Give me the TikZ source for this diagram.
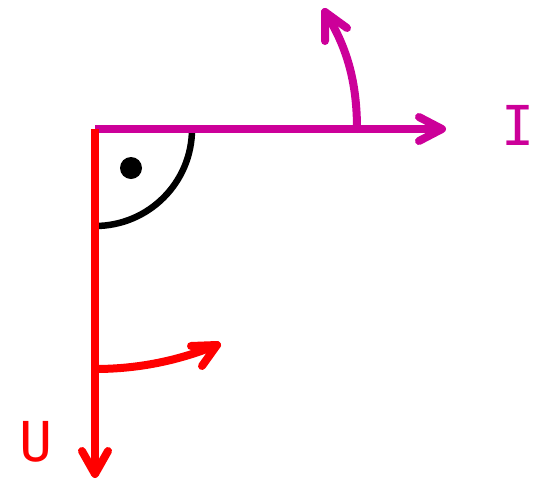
\documentclass[tikz,border=0pt]{standalone}
\usepackage{fontspec}
\newfontfamily\labelfont{DejaVu Sans Mono}
\definecolor{magI}{RGB}{204,0,153}
\definecolor{redU}{RGB}{255,0,0}
\begin{document}
\begin{tikzpicture}[x=1pt,y=-1pt,
  vec/.style={line width=8pt},
  head/.style={line width=8pt,line cap=round,line join=round},
  lbl/.style={font=\labelfont\fontsize{55}{60}\selectfont,inner sep=0pt,anchor=center}]
\useasboundingbox (0,0) rectangle (540,480);
% right angle mark
\draw[line width=6.5pt] (192,129) arc[start angle=0,end angle=90,radius=97];
\fill (131,168) circle[radius=11];
% I axis
\coordinate (O) at (95,129);
\coordinate (Itip) at (442,129);
\draw[vec,magI] (O) -- (Itip);
\draw[head,magI] (419,117) -- (Itip) -- (419,141);
% I rotation arrow
\coordinate (Is) at (357,129);
\coordinate (Ie) at (325,12);
\draw[vec,magI,line cap=round] (Is) .. controls (357,80) and (346,45) .. (Ie);
\draw[head,magI] (325,41) -- (Ie) -- (347,28);
% U axis
\coordinate (Utip) at (95,474);
\draw[vec,redU] (95,129) -- (Utip);
\draw[head,redU] (82,451) -- (Utip) -- (108,451);
% U rotation arrow
\coordinate (Us) at (95,369);
\coordinate (Ue) at (217,345);
\draw[vec,redU,line cap=round] (Us) .. controls (140,369) and (180,360) .. (Ue);
\draw[head,redU] (191,346) -- (Ue) -- (202,366);
% labels
\node[lbl,text=magI] (I) at (518,125) {I};
\node[lbl,text=redU] (U) at (36,442) {U};
\end{tikzpicture}
\end{document}
